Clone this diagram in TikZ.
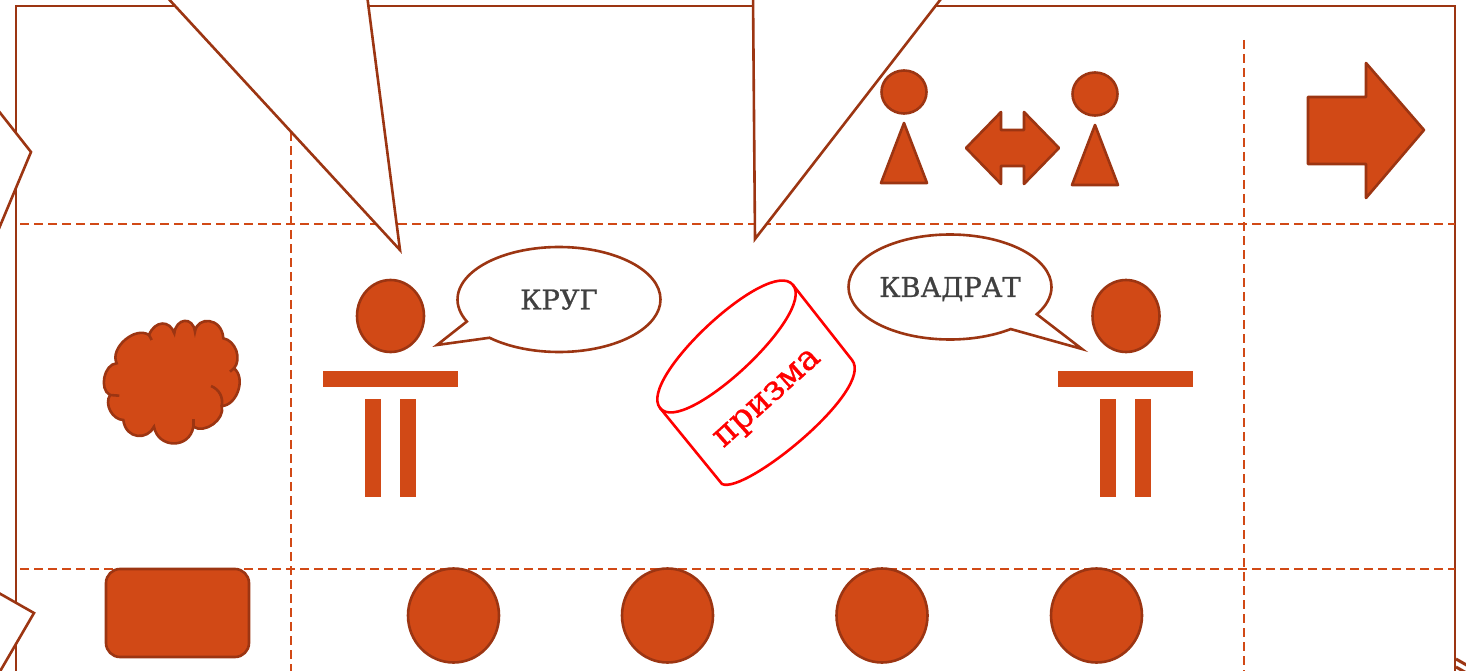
\documentclass[tikz,border=0pt]{standalone}
\usepackage{fontspec}
\setmainfont{DejaVu Serif}
\newfontfamily\slabfont[FakeBold=0.8]{DejaVu Serif}
\usetikzlibrary{fit,shapes.geometric,shapes.callouts}
\definecolor{rust}{HTML}{D14916}
\definecolor{rustdark}{HTML}{9C3512}
\definecolor{inkgray}{HTML}{404040}
\tikzset{
    figurefill/.style={fill=rust, draw=rustdark, line width=2.6pt},
    figurebar/.style={fill=rust, draw=none, inner sep=0pt},
    headshape/.style={figurefill, ellipse, inner sep=0pt},
    gridline/.style={draw=rust, line width=2pt, dash pattern=on 9pt off 5pt},
    bigcallout/.style={fill=white, draw=rustdark, line width=2.6pt},
    bubble/.style={ellipse callout, fill=white, draw=rustdark, line width=2.6pt, inner sep=0pt, text=inkgray, text depth=0pt, font=\slabfont\fontsize{27.3}{27.3}\selectfont},
    cloudline/.style={rustdark, line width=2.6pt},
}

\begin{document}
\begin{tikzpicture}[x=1pt, y=-1pt]
        \useasboundingbox (0, 0) rectangle (1466, 671);
        \clip (0, 0) rectangle (1466, 671);

        \draw [rustdark, line width=2.6pt] (16, 700) -- (16, 6) -- (1455, 6) -- (1455, 700);
        \draw [gridline] (20, 223.5) -- (1455, 223.5);
        \draw [gridline] (20, 569)   -- (1455, 569);
        \draw [gridline] (291, 34)   -- (291, 671);
        \draw [gridline] (1244, 40)  -- (1244, 671);

        \draw [bigcallout] (165, -5) -- (400, 250) -- (367, -5);
        \draw [bigcallout] (753, -5) -- (755, 239) -- (944, -5);
        \draw [bigcallout] (-10, 100) -- (31, 152) -- (-10, 250);
        \draw [bigcallout] (-10, 588) -- (34, 613) -- (-5, 680);
        \draw [rustdark, line width=3pt] (1456, 659) -- (1470, 667);
        \draw [rustdark, line width=3pt] (1456, 667) -- (1470, 675);

        % left figure
        \node[headshape, minimum width=67pt, minimum height=72pt] (headL) at (390.5, 316) {};
        \node[figurebar, fit={(323, 371) (458, 387)}] (tableL) {};
        \node[figurebar, fit={(365, 399) (381, 497)}] (legLa) {};
        \node[figurebar, fit={(400, 399) (416, 497)}] (legLb) {};
        \node[bubble, minimum width=203pt, minimum height=105pt, callout absolute pointer={(437, 345)}, callout pointer arc=22] (bubbleL) at (559, 299.5) {КРУГ};

        % right figure
        \node[headshape, minimum width=67pt, minimum height=72pt] (headR) at (1126, 316) {};
        \node[figurebar, fit={(1058, 371) (1193, 387)}] (tableR) {};
        \node[figurebar, fit={(1100, 399) (1116, 497)}] (legRa) {};
        \node[figurebar, fit={(1135, 399) (1151, 497)}] (legRb) {};
        \node[bubble, minimum width=203pt, minimum height=105pt, callout absolute pointer={(1082, 349)}, callout pointer arc=22] (bubbleR) at (950, 287) {КВАДРАТ};

        % top row
        \node[headshape, minimum width=45pt, minimum height=43pt] (headTa) at (904, 92) {};
        \node[headshape, minimum width=45pt, minimum height=43pt] (headTb) at (1095, 94) {};
        \draw [figurefill, line join=round] (904, 123) -- (881, 183) -- (927, 183) -- cycle;
        \draw [figurefill, line join=round] (1095, 125) -- (1072, 185) -- (1118, 185) -- cycle;
        \draw [figurefill, line join=round] (966, 148) -- (1001, 112) -- (1001, 130) -- (1024, 130) -- (1024, 112) -- (1059, 148)
            -- (1024, 184) -- (1024, 166) -- (1001, 166) -- (1001, 184) -- cycle;
        \draw [figurefill, line join=round] (1308, 97) -- (1366, 97) -- (1366, 63) -- (1424, 130) -- (1366, 198) -- (1366, 164) -- (1308, 164) -- cycle;

        % cloud
        \draw [figurefill] (116.7, 363.3) to[bend left=75] (149, 335)
            .. controls (155, 320) and (170, 320) .. (174.3, 333.3)
            .. controls (176, 318) and (193, 316) .. (195, 331.7)
            .. controls (197, 316) and (222, 317) .. (223.3, 338.3)
            to[bend left=60] (234, 368.3)
            to[bend left=70] (221.7, 406) to[bend left=70] (193.3, 426.7)
            .. controls (190, 449) and (158, 449) .. (154, 426.7)
            .. controls (148, 440) and (126, 440) .. (123.3, 420)
            to[bend left=60] (110, 395) to[bend left=75] cycle;
        \draw [cloudline] (151.7, 340) -- (149, 335);
        \draw [cloudline] (230, 371.7) -- (234, 368.3);
        \draw [cloudline] (211, 386) to[bend left=40] (221.7, 406);
        \draw [cloudline] (193.3, 419) -- (193.3, 426.7);
        \draw [cloudline] (119.3, 395.7) -- (110, 395);

        % bottom row
        \node[figurefill, rectangle, rounded corners=14pt, inner sep=0pt, fit={(106, 569) (249, 657)}] (slab) {};
        \foreach \cx/\name in {453.5/a, 667.5/b, 882/c, 1096.5/d}
            \node[headshape, minimum width=91pt, minimum height=94pt] (disc\name) at (\cx, 615.5) {};

        % cylinder
        \draw [red, line width=2.6pt, line join=round] (660, 408) .. controls (636.8, 378.7) and (769.8, 255.7) .. (793, 285)
            .. controls (816.2, 314.3) and (683.2, 437.3) .. cycle;
        \draw [red, line width=2.6pt, line join=round] (793, 285) -- (852, 360) .. controls (875.2, 389.3) and (745, 495) .. (722, 484) -- (660, 408);
        \node[text=red, rotate=42, font=\slabfont\fontsize{34}{34}\selectfont] (prismlabel) at (769, 400) {призма};
    \end{tikzpicture}
\end{document}
